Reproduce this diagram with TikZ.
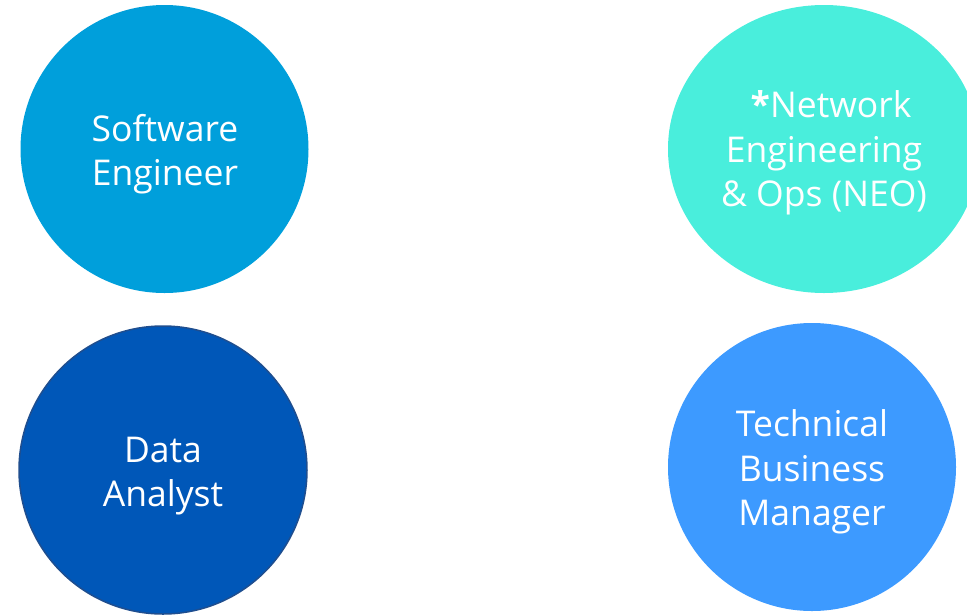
\documentclass[tikz,border=0pt]{standalone}
\usepackage{fontspec}
\setmainfont{Open Sans}
\usetikzlibrary{shapes.geometric}
\definecolor{seblue}{HTML}{009FDB}
\definecolor{neoteal}{HTML}{49EEDC}
\definecolor{dablue}{HTML}{0057B8}
\definecolor{daedge}{HTML}{1F4E8F}
\definecolor{tbmblue}{HTML}{3D9AFF}
\tikzset{
  role/.style={circle, draw=none, minimum size=288pt, inner sep=0pt},
  roletext/.style={text=white, align=center, inner sep=0pt, font=\fontsize{35.5}{44.5}\selectfont}
}
\begin{document}
\begin{tikzpicture}[x=1pt,y=-1pt]
\useasboundingbox (0,0) rectangle (967,614);
\clip (0,0) rectangle (967,614);
\node[role, fill=seblue] (se) at (164.5,149) {};
\node[ellipse, fill=neoteal, minimum width=312pt, minimum height=288pt, inner sep=0pt] (neo) at (824,149) {};
\node[role, fill=dablue, draw=daedge, line width=1.5pt] (da) at (163,470) {};
\node[role, fill=tbmblue] (tbm) at (812,467) {};
\node[roletext] (set) at (165,154) {Software\\Engineer};
\node[roletext] (neot) at (824,153) {\hspace{0.4em}\textbf{*}Network\\Engineering\\\& Ops (NEO)};
\node[roletext] (dat) at (163,476) {Data\\Analyst};
\node[roletext] (tbmt) at (812,472) {Technical\\Business\\Manager};
\end{tikzpicture}
\end{document}
